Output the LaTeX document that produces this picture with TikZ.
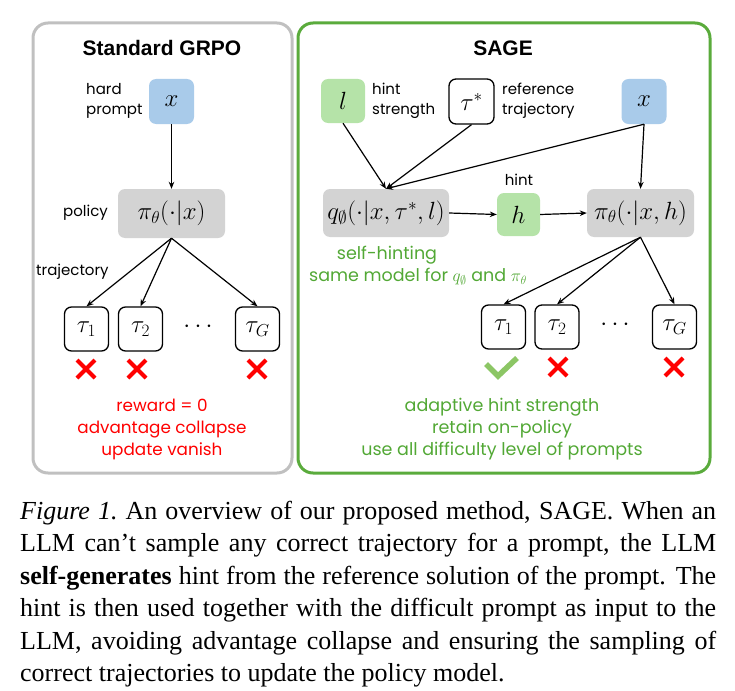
\documentclass[tikz,border=0pt]{standalone}
\usepackage{fontspec}
\setmainfont{Liberation Serif}
\newfontfamily\lblfont{Poppins}
\newfontfamily\ttlfont{Liberation Sans}
\usetikzlibrary{arrows.meta}
\definecolor{gbox}{HTML}{D3D3D3}
\definecolor{bbox}{HTML}{A9CBEA}
\definecolor{grfill}{HTML}{B5E3A8}
\definecolor{grline}{HTML}{5AAB3C}
\definecolor{grtext}{HTML}{52A835}
\definecolor{ckgreen}{HTML}{8CC665}
\definecolor{panelgray}{HTML}{C0C0C0}
\tikzset{
  panel/.style={rounded corners=15pt, line width=3pt},
  mnode/.style={rounded corners=7pt, inner sep=0pt, font=\fontsize{23}{23}\selectfont},
  graynode/.style={mnode, fill=gbox, minimum height=49pt},
  bluenode/.style={mnode, fill=bbox, minimum width=45pt, minimum height=45pt},
  greennode/.style={mnode, fill=grfill, minimum width=44pt, minimum height=44pt},
  taunode/.style={mnode, draw=black, line width=1.3pt, minimum width=44pt, minimum height=44pt},
  lbl/.style={font=\lblfont\fontsize{15}{20}\selectfont, inner sep=0pt, align=left},
  redlbl/.style={font=\lblfont\fontsize{16.8}{22}\selectfont, text=red, inner sep=0pt, align=center},
  grnlbl/.style={font=\lblfont\fontsize{17.5}{22}\selectfont, text=grtext, inner sep=0pt, align=center},
  ttl/.style={font=\ttlfont\bfseries\fontsize{21}{21}\selectfont, inner sep=0pt},
  arr/.style={-{Stealth[length=7pt,width=5.5pt]}, line width=1.2pt},
  xmark/.style={red, line width=4.2pt},
  ckmark/.style={ckgreen, line width=5.5pt},
}
\newcommand{\redx}[2]{\draw[xmark] (#1-9,#2-9) -- (#1+9,#2+9) (#1-9,#2+9) -- (#1+9,#2-9);}
\begin{document}
\begin{tikzpicture}[x=1pt,y=-1pt]
\useasboundingbox (0,0) rectangle (735,690);
% panels
\draw[panel, draw=panelgray] (33,23) rectangle (292,473);
\draw[panel, draw=grline] (298,23) rectangle (710,473);
\node[ttl] (t1) at (162,48) {Standard GRPO};
\node[ttl] (t2) at (503,48) {SAGE};
% left panel
\node[bluenode] (xl) at (171.5,101.5) {$x$};
\node[lbl, anchor=west] (hp) at (86,101) {hard\\prompt};
\node[graynode, minimum width=107pt] (pl) at (171.5,213.5) {$\pi_\theta(\cdot|x)$};
\node[lbl, anchor=east] (pol) at (108,213) {policy};
\node[taunode] (a1) at (86.5,329) {$\tau_1$};
\node[taunode] (a2) at (140.5,329) {$\tau_2$};
\node[mnode] (ad) at (198,327) {$\cdots$};
\node[taunode] (aG) at (257.5,329) {$\tau_G$};
\node[lbl, anchor=west] (trj) at (36,272) {trajectory};
\draw[arr] (xl.south) -- (pl.north);
\draw[arr] (pl.south) -- (a1.north);
\draw[arr] (pl.south) -- (a2.north);
\draw[arr] (pl.south) -- (aG.north);
\redx{86}{369}\redx{137}{369}\redx{257}{369}
\node[redlbl] (rl) at (162,429) {reward = 0\\advantage collapse\\update vanish};
% right panel
\node[greennode] (l) at (343,101) {$l$};
\node[lbl, anchor=west] (hs) at (372,101) {hint\\strength};
\node[taunode, minimum width=45pt, minimum height=45pt] (ts) at (471.5,101.5) {$\tau^*$};
\node[lbl, anchor=west] (rt) at (502,101) {reference\\trajectory};
\node[bluenode] (xr) at (644,101.5) {$x$};
\node[graynode, minimum width=126pt, minimum height=48pt] (q) at (386,213) {$q_\emptyset(\cdot|x,\tau^*,l)$};
\node[greennode, minimum width=43pt, minimum height=43pt] (h) at (518.5,214.5) {$h$};
\node[lbl] (hl) at (519,180) {hint};
\node[graynode, minimum width=107pt, minimum height=48pt] (pr) at (640.5,213) {$\pi_\theta(\cdot|x,h)$};
\draw[arr] (l.south) -- (q.north);
\draw[arr] (ts.south) -- (q.north);
\draw[arr] (xr.south) -- (q.north);
\draw[arr] (xr.south) -- (pr.north);
\draw[arr] (q.east) -- (h.west);
\draw[arr] (h.east) -- (pr.west);
\node[grnlbl] (sh1) at (387,255) {self-hinting};
\node[grnlbl] (sh2) at (418,277) {same model for $q_\emptyset$ and $\pi_\theta$};
\node[taunode] (b1) at (503.5,327) {$\tau_1$};
\node[taunode] (b2) at (557,327) {$\tau_2$};
\node[mnode] (bd) at (615,325) {$\cdots$};
\node[taunode] (bG) at (674.5,327) {$\tau_G$};
\draw[arr] (pr.south) -- (b1.north);
\draw[arr] (pr.south) -- (b2.north);
\draw[arr] (pr.south) -- (bG.north);
\draw[ckmark] (486,364) -- (498,376) -- (517,358);
\redx{558}{367}\redx{674}{367}
\node[grnlbl] (gl) at (502,429) {adaptive hint strength\\retain on-policy\\use all difficulty level of prompts};
% caption
\node[anchor=north west, inner sep=0pt, text width=696pt, align=justify,
      font=\fontsize{26}{32.4}\selectfont] (cap) at (20,501)
{\textit{Figure 1.}\ An overview of our proposed method, SAGE. When an\linebreak
LLM can't sample any correct trajectory for a prompt, the LLM\linebreak
\textbf{self-generates} hint from the reference solution of the prompt. The\linebreak
hint is then used together with the difficult prompt as input to the\linebreak
LLM, avoiding advantage collapse and ensuring the sampling of\linebreak
correct trajectories to update the policy model.};
\end{tikzpicture}
\end{document}
